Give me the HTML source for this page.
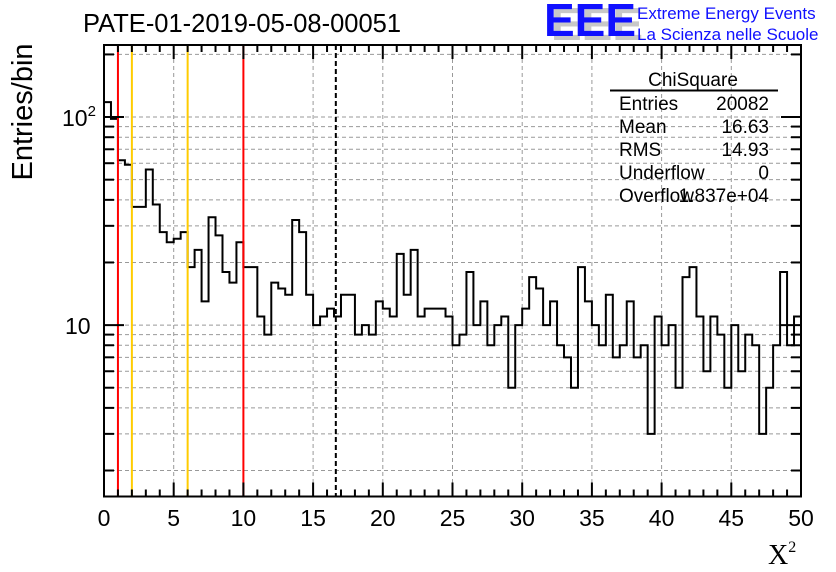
<!DOCTYPE html>
<html><head><meta charset="utf-8"><style>
body{margin:0;background:#fff;}
svg{display:block;font-family:"Liberation Sans",sans-serif;}
</style></head><body>
<svg id="c" width="836" height="572" viewBox="0 0 836 572">
<text x="83" y="32" font-size="25.5">PATE-01-2019-05-08-00051</text>
<g>
<text x="551" y="40" font-size="46" font-weight="bold" fill="#c8c8c8">EEE</text>
<text x="544" y="36" font-size="46" font-weight="bold" fill="#1010ff">EEE</text>
<text x="637" y="19" font-size="17" fill="#1010ff">Extreme Energy Events</text>
<text x="637" y="40" font-size="17" fill="#1010ff">La Scienza nelle Scuole</text>
</g>
<text transform="translate(32,112) rotate(-90)" text-anchor="middle" font-size="29">Entries/bin</text>
<text x="768" y="564" font-size="28" font-family="Liberation Serif,serif">X<tspan font-size="16" dy="-12">2</tspan></text>
<g id="grid"></g><g id="marks"></g><g id="axes"></g>
<g font-size="19">
<text x="693" y="86" text-anchor="middle">ChiSquare</text>
<line x1="610" y1="90.5" x2="778" y2="90.5" stroke="#000" stroke-width="2"/>
<text x="619" y="110">Entries</text><text x="769" y="110" text-anchor="end">20082</text>
<text x="619" y="133">Mean</text><text x="769" y="133" text-anchor="end">16.63</text>
<text x="619" y="156">RMS</text><text x="769" y="156" text-anchor="end">14.93</text>
<text x="619" y="179">Underflow</text><text x="769" y="179" text-anchor="end">0</text>
<text x="619" y="202">Overflow</text><text x="769" y="202" text-anchor="end">1.837e+04</text>
</g>
</svg>
<script>
const counts=[118,98,62,59,37,37,56,38,28,25,26,28,19,23,13,33,27,18,16,25,19,19,11,9,16,15,14,32,28,14,10,11,12,11,14,14,9,10,9,13,12,11,22,14,23,11,12,12,12,11,8,9,18,10,13,8,10,11,5,10,12,17,15,10,13,8,7,5,19,13,10,8,14,7,8,13,7,8,3,11,8,10,5,17,19,11,6,11,9,5,10,6,9,8,3,5,8,18,8,11];
const xTicks=[0,5,10,15,20,25,30,35,40,45,50];
const redLines=[1,10];
const yellowLines=[2,6];
const meanValue=[16.63];
const X0=104,X1=801,Y0=496.5,Y1=45,XMIN=0,XMAX=50,YMIN=1.5,YMAX=222;
const sx=v=>X0+(v-XMIN)/(XMAX-XMIN)*(X1-X0);
const sy=v=>Y0-(Math.log10(v)-Math.log10(YMIN))/(Math.log10(YMAX)-Math.log10(YMIN))*(Y0-Y1);
const NS="http://www.w3.org/2000/svg";
function mk(p,t,a){const e=document.createElementNS(NS,t);for(const k in a)e.setAttribute(k,a[k]);p.appendChild(e);return e;}
const grid=document.getElementById('grid'),marks=document.getElementById('marks'),axes=document.getElementById('axes');
const yt=[];for(let d=1;d<=100;d*=10)for(let m=1;m<10;m++){const v=m*d;if(v>=YMIN&&v<=YMAX)yt.push(v);}
yt.forEach(v=>{const y=sy(v);
const g=mk(grid,'line',{x1:X0,x2:X1,y1:y,y2:y,stroke:'#999','stroke-dasharray':'4,3','stroke-width':1});


const L=(v===10||v===100)?20:10;
mk(axes,'line',{x1:X0,x2:X0+L,y1:y,y2:y,stroke:'#000','stroke-width':2});
mk(axes,'line',{x1:X1-L,x2:X1,y1:y,y2:y,stroke:'#000','stroke-width':2});});
xTicks.forEach(v=>{const x=sx(v);
if(v>XMIN&&v<XMAX){const g=mk(grid,'line',{x1:x,x2:x,y1:Y1,y2:Y0,stroke:'#999','stroke-dasharray':'4,3','stroke-width':1});

}
const t=mk(axes,'text',{x:x,y:526,'text-anchor':'middle','font-size':23});t.textContent=v;

});
for(let v=XMIN;v<=XMAX;v++){const x=sx(v),L=v%5===0?14:7;
mk(axes,'line',{x1:x,x2:x,y1:Y0-L,y2:Y0,stroke:'#000','stroke-width':2});
mk(axes,'line',{x1:x,x2:x,y1:Y1,y2:Y1+L,stroke:'#000','stroke-width':2});}
[[10,'10',''],[100,'10','2']].forEach(([v,b,e])=>{const t=mk(axes,'text',{x:e?62:65,y:sy(v)+9,'font-size':23});t.textContent=b;
if(e){const s=mk(t,'tspan',{dy:-10,'font-size':15});s.textContent=e;}

});
const w=(XMAX-XMIN)/counts.length;let d='';
counts.forEach((c,i)=>{const xa=sx(i*w),xb=sx((i+1)*w),y=sy(c);d+=(i===0?'M'+xa+','+Y0+'L'+xa+','+y:'L'+xa+','+y)+'L'+xb+','+y;});
d+='L'+sx(XMAX)+','+Y0;
const h=mk(marks,'path',{d:d,fill:'none',stroke:'#000','stroke-width':2});


redLines.forEach(v=>{const l=mk(marks,'line',{x1:sx(v),x2:sx(v),y1:Y1,y2:Y0,stroke:'#f00','stroke-width':2});

});
yellowLines.forEach(v=>{const l=mk(marks,'line',{x1:sx(v),x2:sx(v),y1:Y1,y2:Y0,stroke:'#fc0','stroke-width':2});

});
meanValue.forEach(v=>{const l=mk(marks,'line',{x1:sx(v),x2:sx(v),y1:Y1,y2:Y0,stroke:'#000','stroke-width':2,'stroke-dasharray':'5,3'});

});
const f=mk(axes,'rect',{x:X0,y:Y1,width:X1-X0,height:Y0-Y1,fill:'none',stroke:'#000','stroke-width':2});


</script>
</body></html>
